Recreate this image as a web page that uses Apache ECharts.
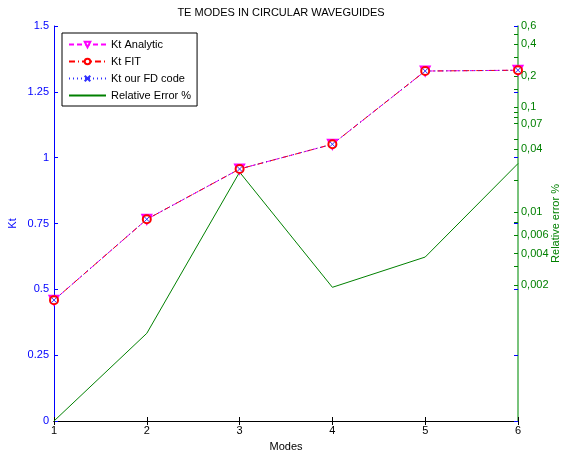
<!DOCTYPE html>
<html>
<head>
<meta charset="utf-8">
<script src="https://cdn.jsdelivr.net/npm/echarts@6/dist/echarts.min.js"></script>
<style>
html, body { margin: 0; padding: 0; background: #fff; }
#chart { width: 562px; height: 455px; }
</style>
</head>
<body>
<div id="chart"></div>
<script>
// 模式编号
const modes = [1, 2, 3, 4, 5, 6];
// Kt 三组数据（基本重合）
const ktAnalytic = [0.459, 0.766, 0.957, 1.051, 1.329, 1.332];
const ktFit = [0.459, 0.766, 0.957, 1.051, 1.329, 1.332];
const ktFD = [0.459, 0.766, 0.957, 1.051, 1.329, 1.332];
// 相对误差 %（右轴，对数）
const relError = [0.0001, 0.00069, 0.024, 0.0019, 0.0037, 0.029];
// 右轴刻度
const errMin = 0.0001;
const errMax = 0.6;
const errLabels = [0.6, 0.4, 0.2, 0.1, 0.07, 0.04, 0.01, 0.006, 0.004, 0.002];
const errMinor = [0.5, 0.3, 0.15, 0.09, 0.08, 0.05, 0.02, 0.008, 0.003];

const font = 'Liberation Sans, Arial, sans-serif';
const green = '#008000';
const blue = '#0000ff';

const pair = arr => modes.map((m, i) => [m, arr[i]]);

let myChart = echarts.init(document.getElementById('chart'));
myChart.setOption({
	animation: false,
	backgroundColor: '#fff',
	textStyle: { fontFamily: font },
	title: {
		text: 'TE MODES IN CIRCULAR WAVEGUIDES',
		left: 'center',
		top: 2,
		textStyle: { fontSize: 11, fontWeight: 'normal', color: '#000', fontFamily: font },
	},
	grid: { left: 54, right: 44, top: 26, bottom: 34, outerBoundsMode: 'none', containLabel: false },
	legend: {
		orient: 'vertical',
		left: 62,
		top: 33,
		itemWidth: 37,
		itemHeight: 7,
		itemGap: 6,
		padding: [6, 6, 5, 6],
		borderColor: '#000',
		borderWidth: 1,
		backgroundColor: '#fff',
		textStyle: { fontSize: 11, color: '#000', fontFamily: font },
		data: [
			'Kt Analytic',
			'Kt FIT',
			'Kt our FD code',
			{ name: 'Relative Error %', itemStyle: { opacity: 0 } },
		],
	},
	xAxis: [
		{
			type: 'value',
			min: 1,
			max: 6,
			interval: 1,
			name: 'Modes',
			nameLocation: 'middle',
			nameGap: 20,
			nameMoveOverlap: false,
			nameTextStyle: { fontSize: 11, color: '#000' },
			axisLine: { lineStyle: { color: '#000' } },
			axisTick: { inside: true, length: 4, lineStyle: { color: '#000' } },
			axisLabel: { fontSize: 11, color: '#000', margin: 4 },
			splitLine: { show: false },
		},
		{
			type: 'value',
			position: 'top',
			min: 1,
			max: 6,
			interval: 1,
			axisLine: { lineStyle: { color: '#000' } },
			axisTick: { inside: true, length: 4, lineStyle: { color: '#000' } },
			axisLabel: { show: false },
			splitLine: { show: false },
		},
	],
	yAxis: [
		{
			type: 'value',
			min: 0,
			max: 1.5,
			interval: 0.25,
			name: 'Kt',
			nameLocation: 'middle',
			nameGap: 36,
			nameMoveOverlap: false,
			nameRotate: 90,
			nameTextStyle: { fontSize: 11, color: blue },
			axisLine: { show: true, lineStyle: { color: blue } },
			axisTick: { show: true, inside: true, length: 4, lineStyle: { color: blue } },
			axisLabel: { fontSize: 11, color: blue, margin: 5 },
			splitLine: { show: false },
		},
		{
			// 数据用的对数轴
			type: 'log',
			logBase: 10,
			min: errMin,
			max: errMax,
			position: 'right',
			axisLine: { show: true, lineStyle: { color: '#4caf50', width: 1.5 } },
			axisTick: { show: false },
			axisLabel: { show: false },
			splitLine: { show: false },
			minorTick: { show: false },
		},
		{
			// 右侧刻度标签（按对数位置）
			type: 'value',
			min: Math.log10(errMin),
			max: Math.log10(errMax),
			position: 'right',
			name: 'Relative error %',
			nameLocation: 'middle',
			nameGap: 32,
			nameMoveOverlap: false,
			nameRotate: 90,
			nameTextStyle: { fontSize: 11, color: green },
			axisLine: { show: false },
			axisTick: {
				show: true,
				inside: true,
				length: 4,
				lineStyle: { color: green },
				customValues: errLabels.concat(errMinor).map(Math.log10),
			},
			axisLabel: {
				fontSize: 11,
				color: green,
				margin: 3,
				customValues: errLabels.map(Math.log10),
				formatter: v => String(+Math.pow(10, v).toPrecision(1)).replace('.', ','),
			},
			splitLine: { show: false },
		},
		{
			// 左轴刻度的镜像
			type: 'value',
			min: 0,
			max: 1.5,
			interval: 0.25,
			position: 'right',
			axisLine: { show: false },
			axisTick: { show: true, inside: true, length: 4, lineStyle: { color: blue } },
			axisLabel: { show: false },
			splitLine: { show: false },
		},
	],
	series: [
		{
			name: 'Relative Error %',
			type: 'line',
			yAxisIndex: 1,
			showSymbol: false,
			lineStyle: { color: green, width: 1 },
			itemStyle: { color: green },
			data: pair(relError),
		},
		{
			name: 'Kt Analytic',
			type: 'line',
			symbol: 'emptyTriangle',
			symbolRotate: 180,
			symbolSize: 9,
			lineStyle: { color: '#ff00ff', width: 1, type: [5, 3] },
			itemStyle: { color: '#ff00ff', borderColor: '#ff00ff', borderWidth: 1 },
			data: pair(ktAnalytic),
		},
		{
			name: 'Kt FIT',
			type: 'line',
			symbol: 'emptyCircle',
			symbolSize: 8,
			lineStyle: { color: '#ff0000', width: 1, type: [6, 3, 1, 3] },
			itemStyle: { color: '#ff0000', borderColor: '#ff0000', borderWidth: 1 },
			data: pair(ktFit),
		},
		{
			name: 'Kt our FD code',
			type: 'line',
			symbol: 'path://M0,0L10,10M10,0L0,10',
			symbolSize: 5,
			lineStyle: { color: '#3030ff', width: 1, type: [1, 3] },
			itemStyle: { color: 'rgba(0,0,0,0)', borderColor: '#3030ff', borderWidth: 1 },
			data: pair(ktFD),
		},
	],
});
</script>
</body>
</html>
